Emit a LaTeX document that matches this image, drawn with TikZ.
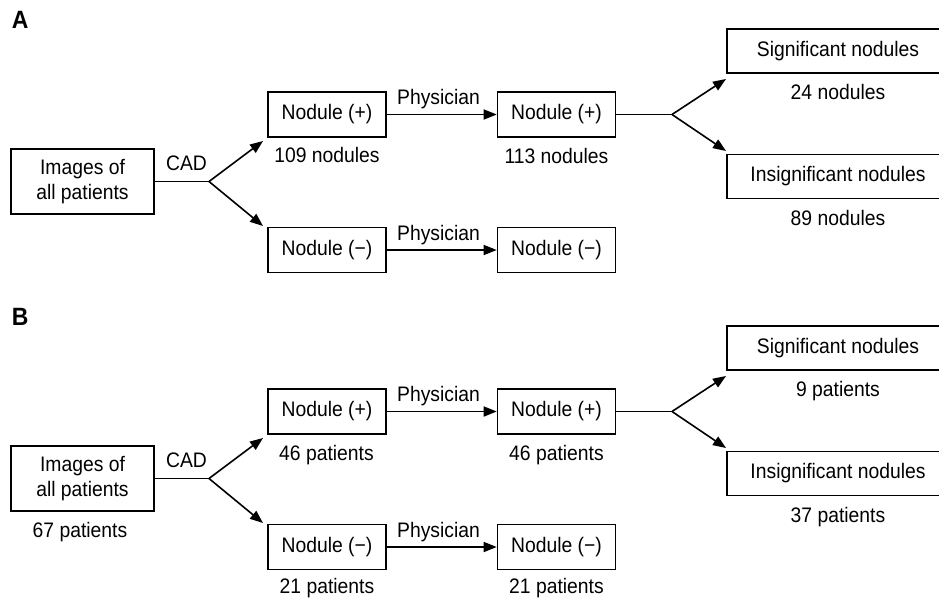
\documentclass[tikz,border=0pt]{standalone}
\usepackage{fontspec}
\setmainfont{Liberation Sans}[FakeStretch=0.92]
\usetikzlibrary{arrows.meta}
\begin{document}
\begin{tikzpicture}[x=1pt,y=-1pt,line width=1.6pt,
  box/.style={draw,line width=1.6pt,inner sep=0pt,align=center,font=\fontsize{21}{24.5}\selectfont},
  smallbox/.style={box,minimum width=118pt,minimum height=45pt},
  widebox/.style={box,minimum width=222pt,minimum height=44pt},
  lbl/.style={font=\fontsize{21}{24.5}\selectfont,inner sep=0pt,anchor=base},
  arr/.style={-{Triangle[length=13pt,width=10pt]}},
  panel/.style={font=\fontsize{25}{28}\selectfont\bfseries,inner sep=0pt,anchor=base west}]
\useasboundingbox (0,0) rectangle (939,597);
\foreach \p/\dy in {A/0,B/297}{
  \begin{scope}[yshift=-\dy pt]
    \node[panel] (lab\p) at (11,28) {\p};
    \node[box,minimum width=143pt,minimum height=65pt] (img\p) at (82.5,181.5) {Images of\\all patients};
    \node[smallbox] (n1p\p) at (327,114.5) {Nodule (+)};
    \node[smallbox] (n1m\p) at (327,250) {Nodule (−)};
    \node[smallbox] (n2p\p) at (556.5,114.5) {Nodule (+)};
    \node[smallbox] (n2m\p) at (556.5,250) {Nodule (−)};
    \node[widebox] (sig\p) at (838,51) {Significant nodules};
    \node[widebox] (ins\p) at (838,176.5) {Insignificant nodules};
    \coordinate (bl\p) at (209,181.5);
    \coordinate (tu\p) at (263,141);
    \coordinate (td\p) at (263,226);
    \coordinate (br\p) at (672,114.5);
    \coordinate (su\p) at (726,79);
    \coordinate (sd\p) at (726,151);
    \draw (img\p.east) -- (bl\p);
    \draw[arr] (bl\p) -- (tu\p);
    \draw[arr] (bl\p) -- (td\p);
    \node[lbl] (cad\p) at (186.5,170) {CAD};
    \draw[arr] (n1p\p) -- (n2p\p);
    \draw[arr] (n1m\p) -- (n2m\p);
    \node[lbl] (phu\p) at (438.5,104) {Physician};
    \node[lbl] (phd\p) at (438.5,240) {Physician};
    \draw (n2p\p.east) -- (br\p);
    \draw[arr] (br\p) -- (su\p);
    \draw[arr] (br\p) -- (sd\p);
  \end{scope}
}
% panel A counts
\node[lbl] (cA1) at (327,162) {109 nodules};
\node[lbl] (cA2) at (556.5,163) {113 nodules};
\node[lbl] (cA3) at (838,99) {24 nodules};
\node[lbl] (cA4) at (838,225) {89 nodules};
% panel B counts
\node[lbl] (cB0) at (80,537) {67 patients};
\node[lbl] (cB1) at (326.5,460) {46 patients};
\node[lbl] (cB2) at (556.5,460) {46 patients};
\node[lbl] (cB3) at (327,593) {21 patients};
\node[lbl] (cB4) at (556.5,593) {21 patients};
\node[lbl] (cB5) at (838,396) {9 patients};
\node[lbl] (cB6) at (838,522) {37 patients};
\end{tikzpicture}
\end{document}
